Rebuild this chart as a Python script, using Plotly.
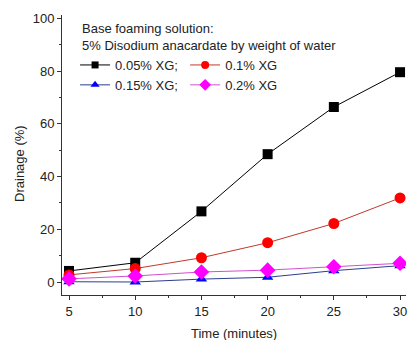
import plotly.graph_objects as go

time_min = [5, 10, 15, 20, 25, 30]
xg_005 = [4.2, 7.3, 26.8, 48.5, 66.4, 79.6]
xg_01 = [2.7, 5.1, 9.2, 14.9, 22.2, 31.9]
xg_015 = [0.1, 0.0, 1.1, 1.8, 4.3, 6.2]
xg_02 = [1.2, 2.3, 3.8, 4.5, 5.8, 7.1]

names = ["0.05% XG;", "0.1% XG", "0.15% XG;", "0.2% XG"]
series = [xg_005, xg_01, xg_015, xg_02]
line_colors = ["#000000", "#c0392b", "#2c3e8f", "#d050d0"]
marker_colors = ["#000000", "#ff0000", "#0000ff", "#ff00ff"]
symbols = ["square", "circle", "triangle-up", "diamond"]
sizes = [10, 11, 10, 12]
legend_sizes = [7, 8, 8, 9]
legend_ids = ["legend", "legend2", "legend", "legend2"]
header = "Base foaming solution:<br>5% Disodium anacardate by weight of water"

FONT = "Liberation Sans, Arial, sans-serif"

fig = go.Figure()
for n, ys, lc, mc, sym, sz in zip(names, series, line_colors, marker_colors, symbols, sizes):
    fig.add_trace(go.Scatter(
        x=time_min, y=ys, name=n, mode="lines+markers", showlegend=False,
        line=dict(color=lc, width=1),
        marker=dict(color=mc, symbol=sym, size=sz, line=dict(width=0)),
    ))
# legend-only entries with smaller keys, as in the original
for n, lc, mc, sym, lsz, lg in zip(names, line_colors, marker_colors, symbols, legend_sizes, legend_ids):
    fig.add_trace(go.Scatter(
        x=[None], y=[None], name=n, mode="lines+markers", legend=lg,
        line=dict(color=lc, width=1),
        marker=dict(color=mc, symbol=sym, size=lsz, line=dict(width=0)),
    ))

leg_common = dict(
    orientation="v", yanchor="top", xanchor="left",
    bgcolor="rgba(0,0,0,0)", font=dict(size=13), itemwidth=30,
    tracegroupgap=0,
)

fig.update_layout(
    width=409, height=340,
    margin=dict(l=62, r=3, t=15, b=45),
    paper_bgcolor="white", plot_bgcolor="white",
    font=dict(family=FONT, size=13, color="#222"),
    legend=dict(x=0.038, y=0.875, **leg_common),
    legend2=dict(x=0.358, y=0.875, **leg_common),
    xaxis=dict(
        range=[4.47, 30.45], tickvals=[5, 10, 15, 20, 25, 30],
        showline=True, linecolor="#333", linewidth=1, mirror=False, automargin=False,
        ticks="outside", ticklen=4, tickcolor="#333", showgrid=False, zeroline=False,
        ticklabeloverflow="allow",
        minor=dict(tickvals=[7.5, 12.5, 17.5, 22.5, 27.5], ticks="outside", ticklen=2, tickcolor="#333"),
        tickfont=dict(size=13),
    ),
    yaxis=dict(
        range=[-4.93, 101.3], tickvals=[0, 20, 40, 60, 80, 100],
        showline=True, linecolor="#333", linewidth=1, automargin=False,
        ticks="outside", ticklen=4, tickcolor="#333", showgrid=False, zeroline=False,
        minor=dict(tickvals=[10, 30, 50, 70, 90], ticks="outside", ticklen=2, tickcolor="#333"),
        tickfont=dict(size=13),
    ),
    annotations=[
        dict(text=header, xref="paper", yref="paper", x=0.052, y=0.92, align="left",
             showarrow=False, font=dict(size=13), xanchor="left", yanchor="middle"),
        dict(text="Time (minutes)", xref="paper", yref="paper", x=0.5, y=0,
             yshift=-38, showarrow=False, font=dict(size=13), xanchor="center", yanchor="middle"),
        dict(text="Drainage (%)", xref="paper", yref="paper", x=0, y=0.468,
             xshift=-42, textangle=-90, showarrow=False, font=dict(size=13),
             xanchor="center", yanchor="middle"),
    ],
)

fig.write_html(
    "out.html",
    config={"displayModeBar": False},
    post_script="document.body.style.margin='0';document.body.style.overflow='hidden';",
)
